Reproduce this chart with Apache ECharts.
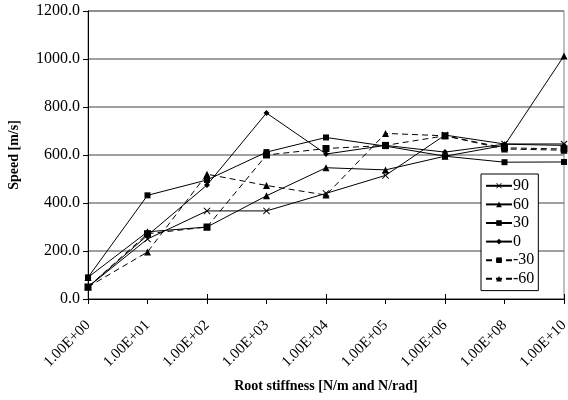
<!DOCTYPE html>
<html>
<head>
<meta charset="utf-8">
<script src="https://cdn.jsdelivr.net/npm/echarts@6/dist/echarts.min.js"></script>
<style>html,body{margin:0;padding:0;background:#fff}#c{width:568px;height:400px}</style>
</head>
<body>
<div id="c"></div>
<script>
const categories = ['1.00E+00','1.00E+01','1.00E+02','1.00E+03','1.00E+04','1.00E+05','1.00E+06','1.00E+08','1.00E+10'];
const yTicks = [0,200,400,600,800,1000,1200];
const s90  = [50, 250, 367, 367, 440, 515, 683, 646, 646];
const s60  = [90, 280, 300, 430, 547, 538, 595, 640, 1013];
const s30  = [90, 432, 496, 612, 673, 637, 595, 570, 571];
const s0   = [50, 265, 475, 775, 604, 640, 612, 645, 640];
const sm30 = [50, 272, 300, 600, 627, 640, 680, 630, 625];
const sm60 = [50, 196, 520, 473, 433, 690, 680, 625, 620];
const names = ['90','60','30','0','-30','-60'];

const crossPath = 'path://M0,1L1,0L5,4L9,0L10,1L6,5L10,9L9,10L5,6L1,10L0,9L4,5Z';
const FONT = '"Liberation Serif", "Times New Roman", serif';

function mk(name, data, symbol, size, dashed) {
  return {
    name: name, type: 'line', data: data, symbol: symbol, symbolSize: size,
    xAxisIndex: 0,
    lineStyle: {color: '#000', width: 1, type: dashed ? [6, 4] : 'solid'},
    itemStyle: {color: '#000'},
    emphasis: {disabled: true},
    animation: false
  };
}

const chart = echarts.init(document.getElementById('c'), null, {renderer: 'canvas'});
chart.setOption({
  animation: false,
  backgroundColor: '#fff',
  grid: {left: 88, right: 4, top: 11, bottom: 101, show: true, borderColor: '#808080', borderWidth: 1,
         containLabel: false, outerBoundsMode: 'none'},
  legend: {
    orient: 'vertical', left: 481, top: 174,
    backgroundColor: '#fff', borderColor: '#000', borderWidth: 1,
    padding: [3, 4, 3, 4], itemGap: 1, itemWidth: 26, itemHeight: 7,
    textStyle: {fontFamily: FONT, fontSize: 16, color: '#000', lineHeight: 17.6, padding: [0, 0, 0, -4]},
    data: names
  },
  xAxis: [{
    type: 'category', data: categories, boundaryGap: false,
    axisLine: {lineStyle: {color: '#000', width: 1}},
    axisTick: {length: 5, lineStyle: {color: '#000'}},
    axisLabel: {rotate: 45, margin: 24, fontFamily: FONT, fontSize: 15, color: '#000', interval: 0},
    name: 'Root stiffness [N/m and N/rad]', nameLocation: 'middle', nameGap: 80,
    nameTextStyle: {fontFamily: FONT, fontSize: 14, fontWeight: 'bold', color: '#000'}
  }, {
    type: 'category', data: categories, boundaryGap: false, position: 'bottom',
    axisLine: {show: false},
    axisTick: {inside: true, length: 5, lineStyle: {color: '#000'}},
    axisLabel: {show: false}
  }],
  yAxis: {
    type: 'value', min: 0, max: 1200, interval: 200,
    axisLine: {show: true, lineStyle: {color: '#000', width: 1}},
    axisTick: {show: true, length: 5, lineStyle: {color: '#000'}},
    splitLine: {lineStyle: {color: '#808080', width: 1.5}},
    axisLabel: {margin: 8, fontFamily: FONT, fontSize: 16, color: '#000',
      formatter: v => yTicks.includes(v) ? v.toFixed(1) : ''},
    name: 'Speed [m/s]', nameLocation: 'middle', nameGap: 67, nameRotate: 90,
    nameTextStyle: {fontFamily: FONT, fontSize: 14, fontWeight: 'bold', color: '#000'}
  },
  series: [
    mk('90', s90, crossPath, 7, false),
    mk('60', s60, 'triangle', 7, false),
    mk('30', s30, 'rect', 6, false),
    mk('0', s0, 'diamond', 6, false),
    mk('-30', sm30, 'rect', 7, true),
    mk('-60', sm60, 'triangle', 7, true)
  ]
});
</script>
</body>
</html>
